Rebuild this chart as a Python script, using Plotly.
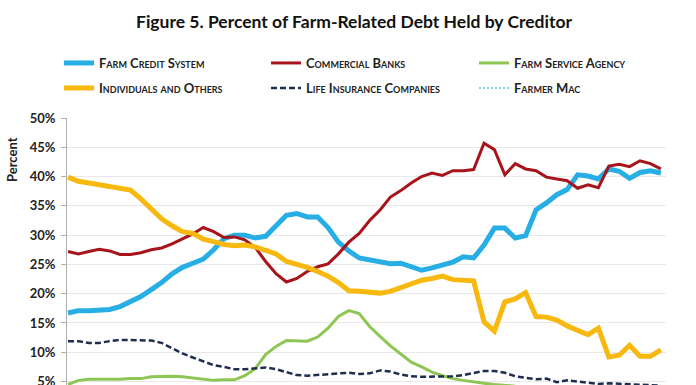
import plotly.graph_objects as go

years = list(range(1960, 2018))

farm_credit_system = [16.7, 17.1, 17.1, 17.1, 17.3, 17.8, 18.6, 19.5, 20.7, 21.9,
                      23.4, 24.5, 25.2, 25.9, 27.5, 29.4, 30.0, 30.0, 29.5, 29.8,
                      31.6, 33.4, 33.7, 33.1, 33.1, 31.3, 28.8, 27.3, 26.1, 25.8,
                      25.6, 25.1, 25.2, 24.6, 24.0, 24.4, 25.0, 25.4, 26.3, 26.1,
                      28.3, 31.2, 31.2, 29.5, 29.9, 34.3, 35.5, 36.9, 37.8, 40.3,
                      40.1, 39.6, 41.3, 40.9, 39.7, 40.7, 41.0, 40.6]

commercial_banks = [27.2, 26.8, 27.2, 27.6, 27.3, 26.7, 26.7, 27.0, 27.5, 27.8,
                    28.5, 29.3, 30.2, 31.3, 30.6, 29.6, 29.7, 29.2, 27.9, 25.5,
                    23.4, 22.0, 22.6, 23.8, 24.6, 25.1, 26.8, 28.8, 30.3, 32.5,
                    34.3, 36.5, 37.6, 38.9, 40.0, 40.6, 40.2, 41.0, 41.0, 41.2,
                    45.7, 44.6, 40.3, 42.2, 41.3, 41.0, 39.9, 39.6, 39.3, 38.0,
                    38.6, 38.1, 41.8, 42.1, 41.7, 42.7, 42.2, 41.3]

farm_service_agency = [4.5, 5.2, 5.4, 5.4, 5.3, 5.4, 5.5, 5.5, 5.8, 5.9,
                       5.9, 5.8, 5.6, 5.4, 5.2, 5.3, 5.3, 6.0, 7.2, 9.6,
                       11.0, 12.0, 12.0, 11.9, 12.6, 14.1, 16.1, 17.1, 16.6, 14.4,
                       12.7, 11.1, 9.7, 8.3, 7.5, 6.6, 6.0, 5.5, 5.2, 4.9,
                       4.7, 4.5, 4.3, 4.2, 4.1, 4.0, 3.9, 3.8, 3.7, 3.6,
                       3.5, 3.4, 3.4, 3.3, 3.3, 3.2, 3.2, 3.1]

individuals_others = [39.9, 39.2, 38.9, 38.6, 38.4, 38.1, 37.7, 36.2, 34.4, 32.8,
                      31.6, 30.6, 30.3, 29.3, 28.9, 28.4, 28.2, 28.3, 28.0, 27.4,
                      26.8, 25.5, 25.1, 24.5, 23.8, 23.0, 21.9, 20.5, 20.4, 20.2,
                      20.1, 20.4, 21.0, 21.7, 22.3, 22.6, 23.0, 22.4, 22.2, 22.2,
                      15.2, 13.6, 18.6, 19.1, 20.2, 16.1, 16.0, 15.5, 14.5, 13.8,
                      13.0, 14.1, 9.2, 9.5, 11.2, 9.3, 9.3, 10.4]

life_insurance = [11.9, 11.9, 11.6, 11.6, 11.9, 12.1, 12.1, 12.1, 12.0, 11.6,
                  10.7, 9.8, 9.1, 8.4, 7.8, 7.5, 7.1, 7.1, 7.3, 7.4,
                  7.1, 6.6, 6.1, 6.0, 6.1, 6.2, 6.4, 6.5, 6.3, 6.4,
                  6.9, 6.7, 6.2, 5.9, 5.8, 5.8, 5.8, 5.9, 6.1, 6.4,
                  6.8, 6.8, 6.5, 5.9, 5.6, 5.4, 5.5, 4.9, 5.2, 5.0,
                  4.7, 4.6, 4.7, 4.6, 4.5, 4.4, 4.4, 4.3]

farmer_mac = [None] * 28 + [0.1, 0.2, 0.3, 0.4, 0.5, 0.6, 0.7, 0.8, 0.9, 1.0,
                            1.2, 1.4, 1.6, 1.8, 1.9, 2.0, 2.0, 2.1, 2.1, 2.2,
                            2.2, 2.3, 2.3, 2.4, 2.4, 2.5, 2.5, 2.6, 2.6, 2.7]

ytick_vals = [5, 10, 15, 20, 25, 30, 35, 40, 45, 50]
ytick_text = [f"{v}%" for v in ytick_vals]

FONT = "Lato"
W, H = 696, 385

# (name, values, color, width, dash, legend column, legend row)
series = [
    ("Farm Credit System", farm_credit_system, "#27aee4", 5, "solid", 0, 0),
    ("Commercial Banks", commercial_banks, "#a8141b", 3, "solid", 1, 0),
    ("Farm Service Agency", farm_service_agency, "#8dc653", 3, "solid", 2, 0),
    ("Individuals and Others", individuals_others, "#f8b80e", 5, "solid", 0, 1),
    ("Life Insurance Companies", life_insurance, "#1f2d4e", 2.5, "6px,3px", 1, 1),
    ("Farmer Mac", farmer_mac, "#5bc4e6", 1.5, "2px,2px", 2, 1),
]
col_x = [59, 266, 474]
row_y = [63, 88]

legend_common = dict(
    orientation="h", xref="container", yref="container",
    xanchor="left", yanchor="middle",
    font=dict(family=FONT, size=13, color="#222222", variant="small-caps", weight=700),
    bgcolor="rgba(0,0,0,0)", itemclick=False, itemdoubleclick=False,
)

fig = go.Figure()
legends = {}
for i, (name, vals, color, w, dash, c, r) in enumerate(series):
    lname = "legend" if i == 0 else f"legend{i + 1}"
    fig.add_trace(go.Scatter(x=years, y=vals, name=name, mode="lines",
                             line=dict(color=color, width=w, dash=dash),
                             legend=lname, connectgaps=False))
    legends[lname] = dict(**legend_common, x=col_x[c] / W, y=1 - row_y[r] / H)

fig.update_layout(
    width=W, height=H,
    margin=dict(l=67, r=30, t=118, b=0, autoexpand=False),
    paper_bgcolor="white", plot_bgcolor="white",
    font=dict(family=FONT, color="#222222"),
    title=dict(text="<b>Figure 5. Percent of Farm-Related Debt Held by Creditor</b>",
               x=354 / W, xanchor="center", xref="container",
               y=1 - 22 / H, yanchor="middle", yref="container",
               font=dict(family=FONT, size=17.5, color="#111111")),
    showlegend=True,
    xaxis=dict(range=[1959.9, 2017.5], visible=False, showgrid=False, zeroline=False),
    yaxis=dict(range=[4.41, 50], tickvals=ytick_vals, ticktext=ytick_text,
               showgrid=True, gridcolor="#e8e8e8", gridwidth=1,
               showline=True, linecolor="#b0b0b0", linewidth=1,
               ticks="outside", ticklen=5, tickcolor="#b0b0b0",
               ticklabelstandoff=3, ticklabeloverflow="allow",
               zeroline=False, automargin=False,
               tickfont=dict(family=FONT, size=13, color="#222222", weight=700)),
    annotations=[dict(text="<b>Percent</b>", textangle=-90, xref="paper", yref="paper",
                      x=-(67 - 12) / (696 - 67 - 30), y=(385 - 160) / (385 - 118),
                      xanchor="center", yanchor="middle", showarrow=False,
                      font=dict(family=FONT, size=13, color="#222222"))],
    **legends,
)

fig.write_html("out.html", config={"displayModeBar": False},
               post_script="document.body.style.margin='0';")
